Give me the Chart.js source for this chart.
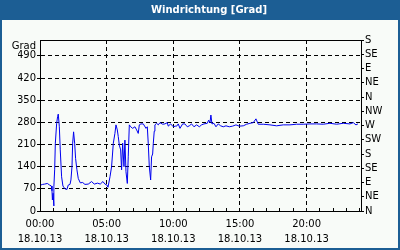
<!DOCTYPE html>
<html>
<head>
<meta charset="utf-8">
<script src="https://cdn.jsdelivr.net/npm/chart.js@4"></script>
<style>
  html, body { margin: 0; padding: 0; background: #1c5e94; }
</style>
</head>
<body>
<canvas id="graph_area" width="400" height="250"></canvas>
<script>
// Messzeit in Stunden (18.10.13)
var times = [
  0.05, 0.2, 0.35, 0.55, 0.72, 0.85, 0.9, 0.93, 0.98, 1.03, 1.05, 1.1, 1.15, 1.25, 1.32, 1.37,
  1.45, 1.52, 1.62, 1.72, 1.87, 2.02, 2.12, 2.25, 2.32, 2.4, 2.45, 2.52, 2.6, 2.67, 2.77, 2.87,
  3.02, 3.2, 3.37, 3.62, 3.87, 4.07, 4.32, 4.52, 4.72, 4.87, 5.02, 5.1, 5.25, 5.37, 5.5, 5.62,
  5.7, 5.8, 5.87, 5.95, 6.05, 6.12, 6.2, 6.3, 6.37, 6.45, 6.55, 6.62, 6.7, 6.8, 6.95, 7.12,
  7.25, 7.37, 7.45, 7.57, 7.75, 7.95, 8.05, 8.12, 8.2, 8.3, 8.37, 8.45, 8.5, 8.57, 8.62, 8.75,
  8.87, 9.0, 9.2, 9.37, 9.55, 9.62, 9.8, 10.0, 10.15, 10.25, 10.37, 10.5, 10.7, 10.87, 11.05, 11.2,
  11.37, 11.55, 11.75, 11.95, 12.12, 12.3, 12.55, 12.65, 12.75, 12.82, 12.9, 13.05, 13.2, 13.37, 13.55, 13.75,
  13.95, 14.2, 14.45, 14.7, 14.95, 15.25, 15.5, 15.75, 16.0, 16.2, 16.37, 16.75, 17.25, 17.75, 18.25, 18.75,
  19.25, 19.75, 20.25, 20.75, 21.25, 21.75, 22.25, 22.75, 23.25, 23.5, 23.7, 23.85
];
// Windrichtung in Grad
var directions = [
  82, 84, 85, 87, 82, 79, 64, 35, 56, 16, 77, 130, 214, 277, 298, 306,
  266, 193, 108, 79, 70, 68, 82, 84, 98, 140, 214, 250, 214, 166, 130, 103,
  89, 90, 84, 85, 93, 85, 88, 85, 93, 85, 82, 75, 108, 140, 214, 245,
  272, 256, 235, 208, 193, 130, 214, 140, 224, 124, 87, 171, 272, 266, 261, 266,
  256, 245, 272, 275, 275, 261, 266, 214, 140, 98, 171, 180, 214, 252, 272, 277,
  272, 279, 274, 275, 279, 268, 275, 266, 268, 268, 275, 261, 275, 275, 266, 269,
  275, 266, 272, 266, 272, 275, 277, 287, 279, 303, 275, 277, 266, 275, 269, 266,
  269, 266, 268, 272, 268, 269, 274, 277, 279, 291, 274, 274, 272, 269, 272, 272,
  274, 274, 275, 275, 274, 277, 274, 277, 275, 279, 272, 275
];

var xTickHours = [0,1,2,3,4,5,6,7,8,9,10,11,12,13,14,15,16,17,18,19,20,21,22,23,24];
var dateLabel = '18.10.13';
var yTickValues = [0, 70, 140, 210, 280, 350, 420, 490];
var compassValues = [0, 45, 90, 135, 180, 225, 270, 315, 360, 405, 450, 495, 540];
var compassLabels = ['N', 'NE', 'E', 'SE', 'S', 'SW', 'W', 'NW', 'N', 'NE', 'E', 'SE', 'S'];

var tickFont = { family: 'DejaVu Sans', size: 10 };

var framePlugin = {
  id: 'frame',
  beforeDraw: function (chart) {
    var ctx = chart.ctx;
    ctx.save();
    ctx.fillStyle = '#1c5e94';
    ctx.fillRect(0, 0, chart.width, chart.height);
    ctx.fillStyle = '#f8fbf8';
    ctx.fillRect(2, 20, chart.width - 4, chart.height - 22);
    ctx.restore();
  },
  afterDraw: function (chart) {
    var a = chart.chartArea;
    var ctx = chart.ctx;
    ctx.save();
    ctx.strokeStyle = '#000';
    ctx.lineWidth = 1;
    ctx.strokeRect(Math.round(a.left) + 0.5, Math.round(a.top) + 0.5,
      Math.round(a.right - a.left), Math.round(a.bottom - a.top));
    ctx.font = '10px "DejaVu Sans"';
    ctx.fillStyle = '#000';
    ctx.textAlign = 'right';
    ctx.textBaseline = 'middle';
    ctx.fillText('Grad', a.left - 4, a.top + 6);
    ctx.restore();
  }
};

var points = [];
for (let i = 0; i < times.length; i++) {
  points.push({ x: times[i], y: directions[i] });
}

const ctx = document.getElementById('graph_area').getContext('2d');
new Chart(ctx, {
  type: 'line',
  data: {
    datasets: [{
      data: points,
      borderColor: '#0000f0',
      borderWidth: 1,
      pointRadius: 0,
      fill: false,
      tension: 0,
      xAxisID: 'x',
      yAxisID: 'y'
    }]
  },
  options: {
    responsive: false,
    animation: false,
    devicePixelRatio: 1,
    layout: { padding: { left: 18, right: 0, top: 0, bottom: 0 } },
    plugins: {
      legend: { display: false },
      tooltip: { enabled: false },
      title: {
        display: true,
        text: 'Windrichtung [Grad]',
        color: '#ffffff',
        font: { family: 'DejaVu Sans', size: 10, weight: 'bold', lineHeight: 1.2 },
        padding: { top: 4, bottom: 24 }
      }
    },
    scales: {
      x: {
        type: 'linear',
        position: 'bottom',
        min: 0,
        max: 24.08,
        afterBuildTicks: function (scale) {
          scale.ticks = xTickHours.map(function (v) { return { value: v }; });
        },
        afterFit: function (scale) { scale.height = 39; },
        border: { color: '#000', width: 1, dash: [4, 3] },
        grid: {
          color: function (c) {
            return (c.tick && c.tick.value > 0 && c.tick.value % 5 === 0) ? '#000' : 'rgba(0,0,0,0)';
          },
          tickColor: '#000',
          tickLength: -3,
          lineWidth: 1
        },
        ticks: {
          autoSkip: false,
          maxRotation: 0,
          color: '#000',
          padding: 9,
          font: { family: 'DejaVu Sans', size: 10, lineHeight: 1.5 },
          callback: function (v) {
            if (v % 5 !== 0) return '';
            return [String(v).padStart(2, '0') + ':00', dateLabel];
          }
        }
      },
      y: {
        type: 'linear',
        position: 'left',
        min: 0,
        max: 540,
        afterBuildTicks: function (scale) {
          scale.ticks = yTickValues.map(function (v) { return { value: v }; });
        },
        afterFit: function (scale) { scale.width = 22; },
        border: { color: '#000', width: 1, dash: [4, 3] },
        grid: {
          color: function (c) {
            return (c.tick && c.tick.value > 0) ? '#000' : 'rgba(0,0,0,0)';
          },
          tickColor: '#000',
          tickLength: 3
        },
        ticks: { autoSkip: false, color: '#000', padding: 1, font: tickFont }
      },
      y2: {
        type: 'linear',
        position: 'right',
        min: 0,
        max: 540,
        afterBuildTicks: function (scale) {
          scale.ticks = compassValues.map(function (v) { return { value: v }; });
        },
        afterFit: function (scale) { scale.width = 39; },
        border: { color: '#000', width: 1 },
        grid: { drawOnChartArea: false, tickColor: '#000', tickLength: 3 },
        ticks: {
          autoSkip: false,
          color: '#000',
          padding: 1,
          font: tickFont,
          callback: function (v, i) { return compassLabels[i]; }
        }
      }
    }
  },
  plugins: [framePlugin]
});
</script>
</body>
</html>
